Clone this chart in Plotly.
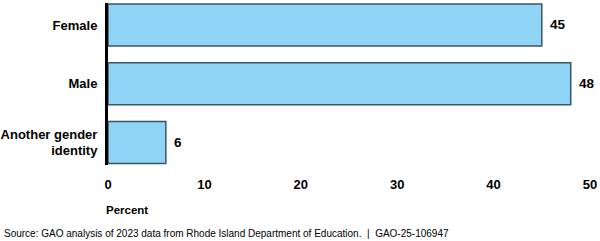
import plotly.graph_objects as go

categories = ["Female", "Male", "Another gender<br>identity"]
values = [45, 48, 6]
x_ticks = [0, 10, 20, 30, 40, 50]

L, R, T, B = 108, 10, 3, 76

fig = go.Figure()
fig.add_trace(go.Bar(
    x=values,
    y=[0, 1, 2],
    orientation="h",
    width=0.715,
    marker=dict(color="#8fd3f5", line=dict(color="#3d5566", width=1.5)),
    hoverinfo="skip",
))

annotations = []
for i, v in enumerate(values):
    annotations.append(dict(
        text=f"<b>{v}</b>", x=v, y=i, xref="x", yref="y",
        showarrow=False, xanchor="left", yanchor="middle", xshift=6,
        font=dict(family="Arial", size=13.5, color="#000000")))

fig.update_layout(
    width=600, height=241,
    margin=dict(l=L, r=R, t=T, b=B, autoexpand=False),
    paper_bgcolor="white", plot_bgcolor="white",
    showlegend=False,
    font=dict(family="Arial", color="#000000"),
    xaxis=dict(
        range=[0, 50], tickvals=x_ticks,
        ticktext=[f"<b>{t}</b>" for t in x_ticks],
        showgrid=False, zeroline=False, showline=False,
        ticks="", ticklabelstandoff=10, automargin=False,
        tickfont=dict(family="Arial", size=13, color="#000000"),
    ),
    yaxis=dict(
        range=[2.383, -0.374],
        tickvals=[0, 1, 2],
        ticktext=[f"<b>{c}</b>" for c in categories],
        showgrid=False, zeroline=False,
        showline=True, linecolor="#000000", linewidth=3,
        ticks="", ticklabelstandoff=5, automargin=False,
        tickfont=dict(family="Arial", size=13, color="#000000"),
    ),
)

pw = 600 - L - R
ph = 241 - T - B
def px2paper(px, py):
    return (px - L) / pw, 1 - (py - T) / ph

ax, ay = px2paper(104, 210)
annotations.append(dict(text="<b>Percent</b>", x=ax, y=ay, xref="paper", yref="paper",
                        showarrow=False, xanchor="left", yanchor="middle",
                        font=dict(family="Arial", size=11.5, color="#000000")))
sx, sy = px2paper(2, 233)
annotations.append(dict(text="Source: GAO analysis of 2023 data from Rhode Island Department of Education.  |  GAO-25-106947",
                        x=sx, y=sy, xref="paper", yref="paper",
                        showarrow=False, xanchor="left", yanchor="middle",
                        font=dict(family="Arial", size=10, color="#000000")))
fig.update_layout(annotations=annotations)

fig.write_html("out.html")
